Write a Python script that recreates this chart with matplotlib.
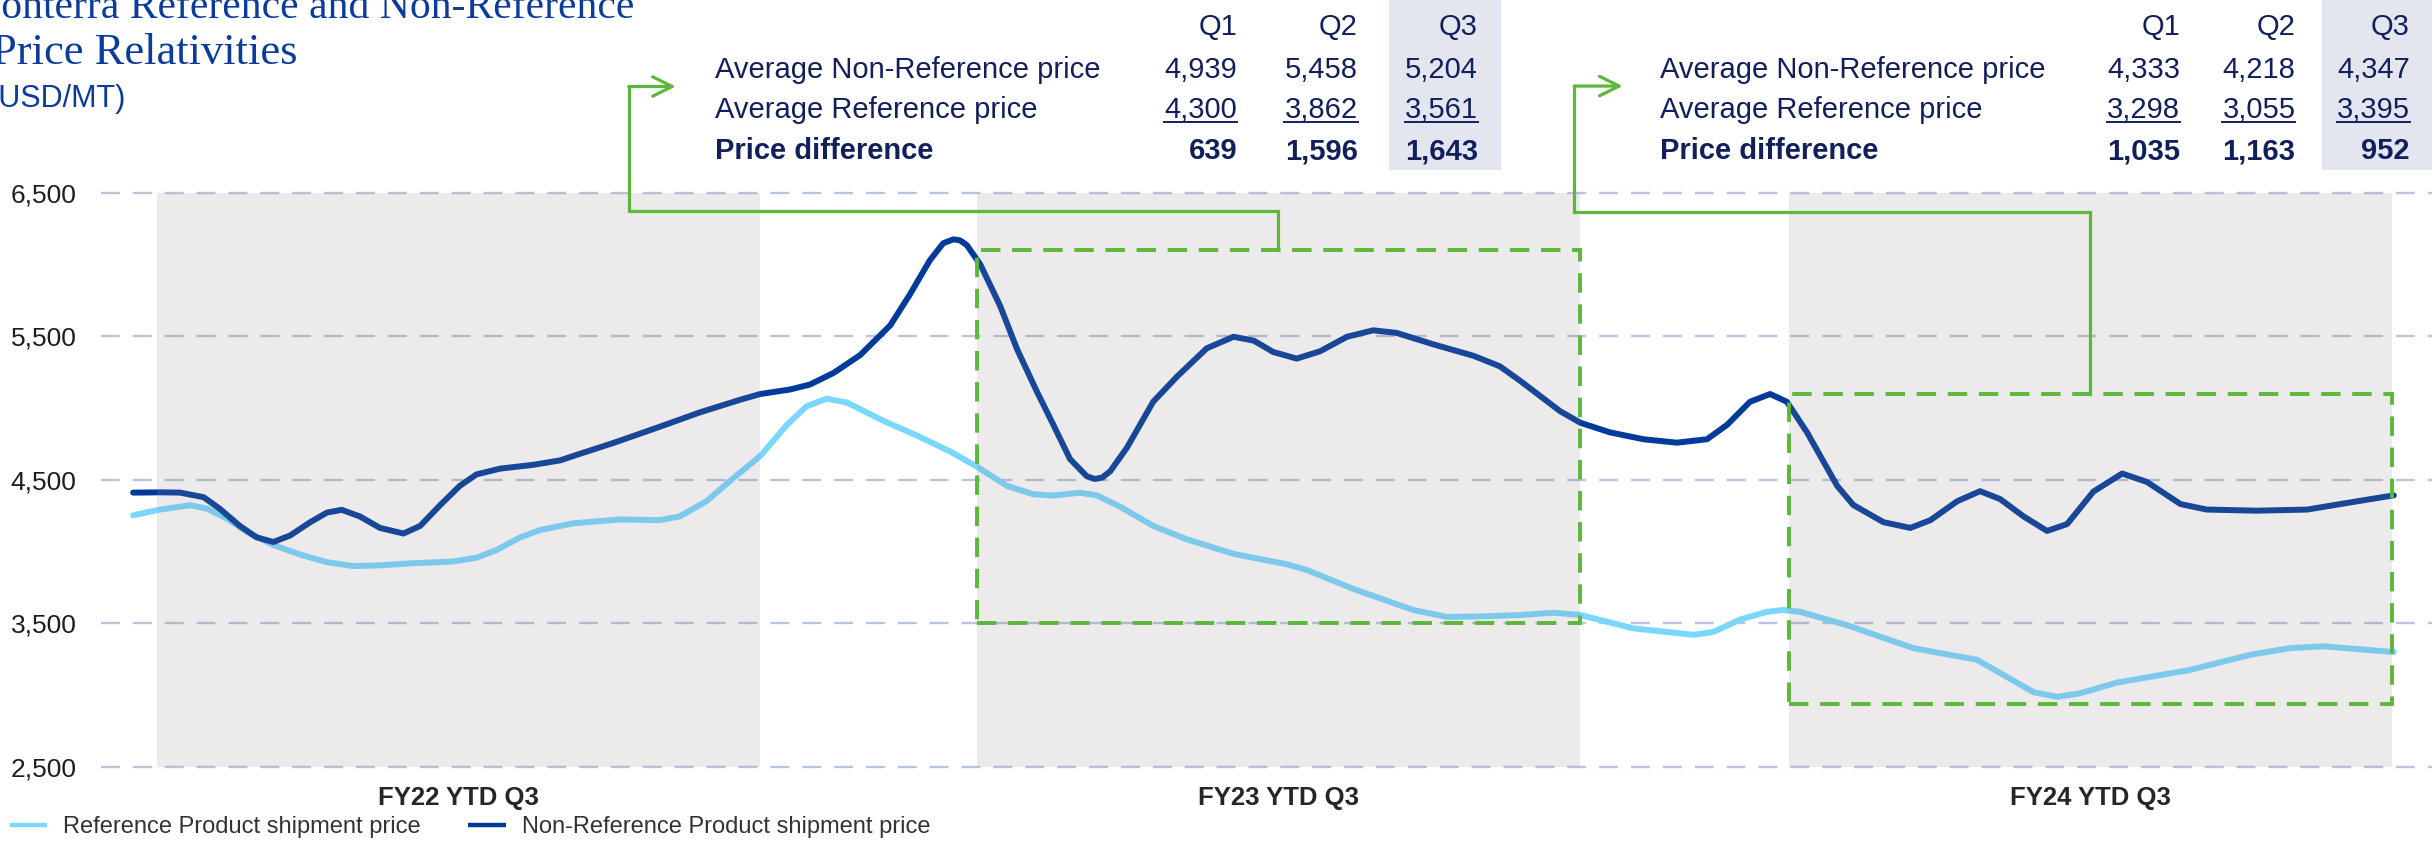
import matplotlib
matplotlib.use("Agg")
import matplotlib.pyplot as plt
from matplotlib.patches import Rectangle
from matplotlib.lines import Line2D

plt.rcParams['font.family'] = ['Liberation Sans', 'DejaVu Sans']

# x = months from the start of FY22 (1 Aug 2021)
nonref_x = [-0.35, 0.05, 0.35, 0.70, 0.94, 1.24, 1.49, 1.74, 1.99, 2.29, 2.54, 2.76, 3.03, 3.33,
            3.68, 3.93, 4.23, 4.52, 4.77, 5.12, 5.62, 6.02, 6.21, 6.81, 7.46, 8.10, 8.70, 9.00,
            9.45, 9.74, 10.09, 10.49, 10.94, 11.23, 11.53, 11.73, 11.88, 11.98, 12.08, 12.28,
            12.58, 12.83, 13.12, 13.37, 13.62, 13.87, 13.99, 14.10, 14.22, 14.47, 14.86, 15.21,
            15.66, 16.06, 16.36, 16.65, 17.00, 17.35, 17.75, 18.14, 18.49, 19.04, 19.64, 20.03,
            20.33, 20.93, 21.23, 21.67, 22.17, 22.67, 23.12, 23.42, 23.76, 24.06, 24.31, 24.61,
            25.06, 25.30, 25.75, 26.15, 26.45, 26.85, 27.19, 27.49, 27.84, 28.19, 28.49, 28.88,
            29.31, 29.68, 30.18, 30.57, 31.32, 32.07, 32.56, 33.36]
nonref_price = [4410, 4412, 4410, 4378, 4298, 4178, 4098, 4066, 4111, 4204, 4271, 4290, 4244, 4164,
                4125, 4178, 4324, 4457, 4537, 4577, 4604, 4635, 4665, 4756, 4862, 4969, 5057, 5097,
                5129, 5163, 5243, 5368, 5576, 5789, 6029, 6148, 6175, 6168, 6135, 6002,
                5709, 5410, 5120, 4884, 4644, 4524, 4505, 4515, 4559, 4724, 5043, 5216,
                5416, 5496, 5469, 5390, 5344, 5395, 5496, 5541, 5523, 5443, 5363, 5290,
                5190, 4977, 4897, 4830, 4782, 4758, 4782, 4883, 5043, 5097, 5043, 4830,
                4457, 4324, 4204, 4164, 4218, 4350, 4420, 4365, 4244, 4143, 4191, 4417,
                4543, 4484, 4330, 4292, 4284, 4292, 4330, 4391]

ref_x = [-0.35, 0.05, 0.50, 0.75, 1.04, 1.34, 1.74, 2.14, 2.54, 2.93, 3.33, 3.78, 4.42, 4.77,
         5.07, 5.42, 5.72, 6.21, 6.91, 7.50, 7.80, 8.20, 8.60, 9.00, 9.40, 9.69, 9.99, 10.29,
         10.84, 11.33, 11.83, 12.23, 12.68, 13.07, 13.37, 13.77, 14.02, 14.37, 14.86, 15.36,
         16.06, 16.85, 17.15, 17.85, 18.74, 19.24, 19.74, 20.33, 20.83, 21.23, 22.02, 22.92,
         23.22, 23.61, 24.01, 24.26, 24.51, 25.21, 25.70, 26.20, 26.60, 27.14, 27.59, 27.99,
         28.34, 28.68, 29.23, 30.32, 31.22, 31.81, 32.31, 33.36]
ref_price = [4252, 4292, 4322, 4298, 4231, 4138, 4045, 3978, 3925, 3898, 3903, 3917, 3930, 3957,
             4010, 4098, 4150, 4196, 4223, 4218, 4244, 4351, 4511, 4665, 4883, 5011, 5065, 5038,
             4910, 4809, 4697, 4591, 4457, 4399, 4390, 4409, 4391, 4311, 4178, 4085,
             3983, 3911, 3871, 3738, 3592, 3544, 3547, 3557, 3573, 3557, 3464, 3419,
             3440, 3525, 3579, 3592, 3579, 3486, 3406, 3326, 3291, 3246, 3126, 3019,
             2987, 3011, 3086, 3174, 3280, 3326, 3339, 3299]

# shaded periods, same month units
period_labels = ["FY22 YTD Q3", "FY23 YTD Q3", "FY24 YTD Q3"]
period_start = [0.0, 12.23, 24.34]
period_end = [9.0, 21.23, 33.33]

# quarterly table values (USD/MT)
quarters = ["Q1", "Q2", "Q3"]
row_labels = ["Average Non-Reference price", "Average Reference price", "Price difference"]
fy23_nonref = [4939, 5458, 5204]
fy23_ref = [4300, 3862, 3561]
fy23_diff = [639, 1596, 1643]
fy24_nonref = [4333, 4218, 4347]
fy24_ref = [3298, 3055, 3395]
fy24_diff = [1035, 1163, 952]

W, H = 2432, 850
blue_title = '#0b3c9c'
navy = '#111f5c'
green = '#5cb83a'
light_blue = '#7ad7ff'
dark_blue = '#003b9c'


def fx(px):
    return px / W


def fy(py):
    return 1 - py / H


fig = plt.figure(figsize=(W / 100, H / 100), dpi=100)
ax = fig.add_axes([fx(101), fy(766.7), 1 - fx(101), (766.7 - 192.7) / H])
ax.set_xlim(-0.83, 33.93)
ax.set_ylim(2500, 6500)

ax.plot(ref_x, ref_price, color=light_blue, lw=4.3, solid_capstyle='round',
        solid_joinstyle='round', zorder=2, label='Reference Product shipment price')
ax.plot(nonref_x, nonref_price, color=dark_blue, lw=4.3, solid_capstyle='round',
        solid_joinstyle='round', zorder=2, label='Non-Reference Product shipment price')

# grey periods sit over the lines (semi transparent)
for s, e in zip(period_start, period_end):
    ax.add_patch(Rectangle((s, 2500), e - s, 4000, facecolor=(144 / 255, 132 / 255, 138 / 255),
                           alpha=0.17, lw=0, zorder=3))

# grid + axes
ax.set_yticks([2500, 3500, 4500, 5500, 6500])
ax.set_yticklabels([f"{v:,}" for v in [2500, 3500, 4500, 5500, 6500]], fontsize=19, color='#1e1e1e')
ax.yaxis.grid(True, color='#b9c4de', lw=1.7, ls=(0, (8, 5.5)), zorder=1)
for gl in ax.get_ygridlines():
    gl.set_clip_on(False)
ax.set_axisbelow(True)
ax.tick_params(axis='y', length=0, pad=17.6)
ax.set_xticks([(s + e) / 2 for s, e in zip(period_start, period_end)])
ax.set_xticklabels(period_labels, fontsize=18.5, fontweight='bold', color='#262626')
ax.tick_params(axis='x', length=0, pad=14)
for sp in ax.spines.values():
    sp.set_visible(False)

# green dashed boxes around the highlighted periods
ax.add_patch(Rectangle((12.234, 3500), 21.225 - 12.234, 6100 - 3500, fill=False, ec=green,
                       lw=2.8, ls=(0, (5, 3)), zorder=4, clip_on=False))
ax.add_patch(Rectangle((24.34, 2940), 33.33 - 24.34, 5100 - 2940, fill=False, ec=green,
                       lw=2.8, ls=(0, (5, 3)), zorder=4, clip_on=False))

# connectors from the boxes to the tables
ax.plot([16.72, 16.72, 7.04, 7.04], [6100, 6375, 6375, 7240], color=green, lw=2.3,
        clip_on=False, zorder=4, solid_joinstyle='miter')
ax.annotate('', xy=(7.74, 7240), xytext=(7.04, 7240), annotation_clip=False,
            arrowprops=dict(arrowstyle='->,head_length=0.7,head_width=0.35', color=green,
                            lw=2.3, shrinkA=0, shrinkB=0, mutation_scale=20))
ax.plot([28.83, 28.83, 21.14, 21.14], [5100, 6365, 6365, 7243], color=green, lw=2.3,
        clip_on=False, zorder=4, solid_joinstyle='miter')
ax.annotate('', xy=(21.86, 7243), xytext=(21.14, 7243), annotation_clip=False,
            arrowprops=dict(arrowstyle='->,head_length=0.7,head_width=0.35', color=green,
                            lw=2.3, shrinkA=0, shrinkB=0, mutation_scale=20))

# title (cut at the left/top edge as in the source slide)
fig.text(fx(-22), fy(18), "Fonterra Reference and Non-Reference", family='Liberation Serif',
         fontsize=30, color=blue_title, va='baseline')
fig.text(fx(-8), fy(64), "Price Relativities", family='Liberation Serif', fontsize=32,
         color=blue_title, va='baseline')
fig.text(fx(-12), fy(107), "(USD/MT)", fontsize=22, color=blue_title, va='baseline')

# tables
underlined = []


def draw_table(label_x, col_right, box_x0, box_x1, nonref, ref, diff):
    fig.add_artist(Rectangle((fx(box_x0), fy(170)), fx(box_x1 - box_x0), 170 / H,
                             transform=fig.transFigure, facecolor='#e3e6ef', lw=0, zorder=0))
    base = [35, 77.5, 118, 159]
    for q, cx in zip(quarters, col_right):
        fig.text(fx(cx), fy(base[0]), q, ha='right', va='baseline', fontsize=21, color=navy)
    rows = [nonref, ref, diff]
    for i, (lab, vals) in enumerate(zip(row_labels, rows)):
        w = 'bold' if i == 2 else 'normal'
        fig.text(fx(label_x), fy(base[i + 1]), lab, ha='left', va='baseline', fontsize=21,
                 color=navy, fontweight=w)
        for v, cx in zip(vals, col_right):
            t = fig.text(fx(cx), fy(base[i + 1]), f"{v:,}", ha='right', va='baseline',
                         fontsize=21, color=navy, fontweight=w)
            if i == 1:
                underlined.append(t)


draw_table(715, [1237, 1357.6, 1478], 1389, 1501, fy23_nonref, fy23_ref, fy23_diff)
draw_table(1659.5, [2180, 2295.4, 2410], 2322, 2432, fy24_nonref, fy24_ref, fy24_diff)

leg = ax.legend(loc='center left', bbox_to_anchor=(fx(9.6), fy(827)), bbox_transform=fig.transFigure,
                ncol=2, frameon=False, fontsize=17, handlelength=1.6, handletextpad=0.68,
                columnspacing=1.98, borderpad=0, borderaxespad=0, labelcolor='#333333')
for ln in leg.get_lines():
    ln.set_linewidth(3.2)
    ln.set_solid_capstyle('butt')

# underline the reference price numbers
fig.canvas.draw()
r = fig.canvas.get_renderer()
for t in underlined:
    bb = t.get_window_extent(r)
    fig.add_artist(Line2D([bb.x0 / W, bb.x1 / W], [fy(122), fy(122)], transform=fig.transFigure,
                          color=navy, lw=1.4))

fig.savefig("out.png", dpi=100)
